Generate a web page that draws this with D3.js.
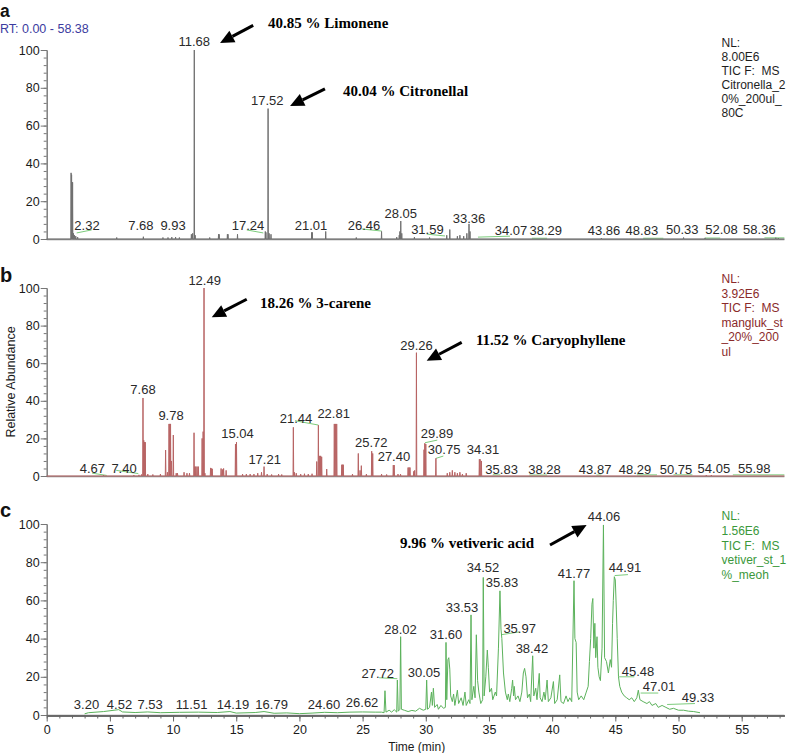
<!DOCTYPE html>
<html>
<head>
<meta charset="utf-8">
<script src="https://cdn.jsdelivr.net/npm/d3@7"></script>
<style>
  body { margin: 0; background: #fff; }
  svg { display: block; font-family: "Liberation Sans", Arial, sans-serif; }
  .note { font-family: "Liberation Serif", "Times New Roman", serif; font-weight: bold; font-size: 15px; }
</style>
</head>
<body>
<svg id="chart" width="787" height="753"></svg>
<script>
// Three GC-MS total ion chromatograms (a: citronella, b: mangluk, c: vetiver)
// peaks are [time (min), relative abundance %]
const timeRange = [0, 58.38];
const xTickValues = [0, 5, 10, 15, 20, 25, 30, 35, 40, 45, 50, 55];
const yTickValues = [0, 20, 40, 60, 80, 100];

const peaksA = [
  [1.93, 35], [1.97, 34], [2.01, 30], [2.05, 30], [2.12, 3], [2.2, 2], [2.3, 1.5], [2.45, 1],
  [5.54, 0.8], [7.65, 1.2], [9.2, 0.8], [9.6, 0.8], [9.9, 1], [10.2, 1], [10.5, 0.8],
  [11.45, 2.5], [11.55, 3], [11.68, 100], [11.75, 2], [12.9, 0.8], [13.6, 2.5], [13.65, 2.5],
  [14.3, 2.5], [14.35, 2.5], [15.1, 2.5], [17.3, 4], [17.35, 3.5], [17.52, 69], [17.6, 3],
  [17.75, 2.5], [20.97, 3.5], [21.02, 3.5], [22.08, 4], [24.5, 0.8], [26.5, 4], [27.7, 1],
  [27.9, 2], [27.95, 4], [28.02, 9.5], [28.1, 3], [29.1, 1], [30.3, 0.8], [31.66, 2],
  [31.9, 5], [32.5, 1.5], [32.7, 2], [33.0, 1.5], [33.25, 3], [33.42, 8], [33.5, 4],
  [43.9, 0.5], [50.4, 0.8], [52.1, 0.6], [57.7, 0.7], [57.9, 0.5]
];

const peaksB = [
  [4.5, 0.5], [6.9, 0.5], [7.3, 0.6], [7.5, 0.8], [7.62, 41.5], [7.68, 19], [7.74, 18], [7.8, 18],
  [8.0, 1], [8.4, 0.8], [9.0, 1], [9.41, 13.8], [9.55, 2], [9.68, 27.7], [9.74, 27.7], [9.8, 27.7],
  [9.87, 8], [10.02, 21.8], [10.25, 1.5], [10.35, 1.5], [10.87, 2], [11.1, 1.5], [11.3, 1.5],
  [11.66, 23], [11.72, 5], [11.8, 5], [11.9, 5], [12.0, 5], [12.3, 20], [12.38, 23.6],
  [12.45, 100], [12.52, 1.5], [12.97, 4.3], [13.05, 4], [13.1, 3.8], [13.8, 4], [13.9, 3.5],
  [14.0, 4], [14.2, 3], [14.94, 17], [15.02, 18], [15.5, 1], [15.8, 1], [16.1, 1], [16.4, 1],
  [16.7, 1.5], [17.0, 2], [17.2, 5], [17.45, 1], [17.8, 0.8], [18.35, 1], [18.6, 0.8],
  [19.52, 25.9], [19.6, 2], [19.75, 1.5], [20.1, 1], [20.4, 1.2], [20.7, 1], [21.0, 1.2],
  [21.37, 7.7], [21.5, 27], [21.6, 10.7], [21.68, 10.7], [21.76, 10.2], [22.16, 3.7],
  [22.76, 27.7], [22.85, 27.7], [22.95, 27.7], [23.35, 6], [23.42, 6], [23.47, 6], [24.2, 1],
  [24.66, 12], [24.8, 3], [24.9, 5.5], [25.3, 1], [25.72, 13.2], [25.8, 12], [26.5, 1],
  [26.9, 0.8], [27.43, 5.8], [27.5, 5.8], [27.8, 1], [28.0, 1], [28.6, 4.5], [28.68, 4.5],
  [28.75, 4.5], [29.05, 2.5], [29.12, 3], [29.26, 65.6], [29.86, 14], [29.92, 17.4], [30.0, 17],
  [30.8, 9.4], [31.7, 1.5], [31.9, 2], [32.1, 3], [32.3, 2], [32.5, 1.5], [32.7, 2], [32.9, 1],
  [33.2, 1.5], [34.24, 8.9], [34.3, 8.9], [34.4, 8], [52.2, 0.5], [52.6, 0.5]
];

const traceC = [
  [3.0, 0.6], [3.3, 1.2], [4.5, 1.8], [5.7, 2.8], [6.0, 1.6], [7.0, 1.3], [8.0, 1.6], [9.0, 1.2],
  [10.5, 1.4], [12.0, 1.5], [13.5, 1.3], [14.5, 1.8], [15.0, 1.0], [16.5, 1.3], [17.2, 1.8],
  [18.0, 0.9], [19.0, 1.1], [20.0, 0.7], [21.0, 1.0], [22.0, 1.4], [23.0, 1.2], [24.0, 1.5],
  [25.0, 1.6], [26.0, 1.5], [26.5, 1.5], [26.7, 1.2], [26.77, 12.7], [26.85, 1.5], [27.1, 2.5],
  [27.3, 1.5], [27.5, 2.8], [27.7, 1.5], [27.75, 18.3], [27.82, 2], [27.95, 3], [28.01, 41],
  [28.07, 3], [28.3, 2.5], [28.6, 1.8], [28.9, 2.4], [29.2, 2], [29.5, 3.5], [29.8, 2.5],
  [30.0, 3], [30.07, 18.3], [30.14, 3], [30.3, 4], [30.45, 12], [30.52, 5], [30.6, 14],
  [30.7, 4], [30.9, 5.5], [31.0, 3], [31.2, 5], [31.4, 3.5], [31.55, 4], [31.6, 38], [31.66, 8],
  [31.75, 29], [31.82, 30], [31.9, 24], [31.97, 10], [32.1, 7], [32.2, 11], [32.3, 5],
  [32.5, 13], [32.6, 6], [32.8, 9], [32.95, 5], [33.1, 12], [33.2, 5], [33.4, 8], [33.5, 6],
  [33.58, 52.4], [33.65, 8], [33.8, 15], [33.9, 9], [34.0, 42], [34.1, 18], [34.2, 12],
  [34.35, 6], [34.5, 8], [34.55, 72], [34.62, 10], [34.75, 20], [34.87, 34], [34.95, 25],
  [35.05, 12], [35.2, 14], [35.3, 8], [35.5, 12], [35.6, 10], [35.75, 35], [35.87, 65],
  [35.95, 45], [36.02, 40], [36.15, 22], [36.3, 12], [36.45, 8], [36.53, 11], [36.65, 7],
  [36.8, 14], [36.87, 18.3], [36.95, 10], [37.0, 15], [37.1, 8], [37.3, 10], [37.45, 7],
  [37.6, 12], [37.72, 22], [37.82, 24.4], [37.93, 20], [38.05, 9], [38.2, 11], [38.3, 7],
  [38.46, 31], [38.55, 10], [38.7, 14], [38.8, 8], [38.98, 21.8], [39.05, 9], [39.2, 7],
  [39.35, 12], [39.45, 8], [39.6, 18.3], [39.7, 7], [39.9, 9], [40.1, 17.5], [40.2, 6],
  [40.4, 8], [40.6, 21], [40.7, 7], [40.9, 6], [41.1, 10], [41.25, 7], [41.4, 9], [41.55, 7],
  [41.73, 70.3], [41.8, 40], [41.9, 38], [41.98, 12], [42.1, 8], [42.3, 10], [42.5, 8],
  [42.7, 12], [42.85, 15], [42.95, 28], [43.05, 40], [43.15, 58], [43.22, 61], [43.3, 35],
  [43.38, 48], [43.45, 30], [43.55, 41], [43.62, 25], [43.72, 20], [43.82, 18], [43.95, 35],
  [44.06, 99.5], [44.15, 30], [44.3, 28], [44.45, 22], [44.6, 29], [44.7, 25], [44.78, 48],
  [44.84, 60], [44.92, 72.4], [45.0, 70.7], [45.08, 55], [45.15, 40], [45.25, 20], [45.35, 15],
  [45.5, 12], [45.7, 10], [45.9, 9], [46.1, 8], [46.3, 9], [46.5, 7], [46.7, 9], [46.82, 13],
  [46.95, 8], [47.2, 7], [47.5, 6], [47.7, 7], [47.9, 5], [48.2, 6], [48.4, 4], [48.7, 5],
  [49.0, 4], [49.3, 3], [49.6, 3.5], [50.0, 2.5], [50.4, 2.5], [50.8, 2], [51.2, 1.8], [51.7, 1.2]
];

// peak labels: [text, time of label centre, abundance of label baseline]
const labelsA = [
  ["11.68", 11.68, 102], ["17.52", 17.46, 71], ["2.32", 3.19, 5], ["7.68", 7.45, 5],
  ["9.93", 10.0, 5], ["17.24", 15.93, 5], ["21.01", 20.92, 5], ["26.46", 25.11, 5],
  ["28.05", 28.02, 11], ["31.59", 30.13, 2.4], ["33.36", 33.42, 8.5], ["34.07", 36.74, 1.9],
  ["38.29", 39.5, 1.9], ["43.86", 44.1, 1.9], ["48.83", 47.1, 1.9], ["50.33", 50.3, 2.6],
  ["52.08", 53.4, 2.6], ["58.36", 56.4, 2.6]
];
const labelsB = [
  ["12.49", 12.5, 101.6], ["7.68", 7.62, 43.6], ["9.78", 9.84, 30], ["15.04", 15.1, 20.2],
  ["17.21", 17.25, 6.4], ["21.44", 19.73, 28], ["22.81", 22.71, 30.6], ["25.72", 25.69, 15.4],
  ["4.67", 3.62, 1.6], ["7.40", 6.12, 1.6], ["27.40", 27.48, 8], ["29.26", 29.27, 67],
  ["29.89", 30.89, 20.2], ["30.75", 31.45, 11.7], ["34.31", 34.53, 11.7], ["35.83", 36.0, 1],
  ["38.28", 39.4, 1], ["43.87", 43.4, 1], ["48.29", 46.56, 1], ["50.75", 49.8, 1],
  ["54.05", 52.8, 1.8], ["55.98", 56.0, 1.8]
];
const labelsC = [
  ["3.20", 3.15, 3.1], ["4.52", 5.76, 3.1], ["7.53", 8.18, 3.1], ["11.51", 11.47, 3.1],
  ["14.19", 14.74, 3.1], ["16.79", 17.8, 3.1], ["24.60", 21.95, 3.1], ["26.62", 24.96, 4],
  ["27.72", 26.2, 19.4], ["28.02", 28.0, 42.6], ["30.05", 29.86, 19.7], ["31.60", 31.6, 40],
  ["33.53", 32.87, 53.8], ["34.52", 34.53, 74.9], ["35.83", 36.03, 66.9], ["35.97", 37.43, 43],
  ["38.42", 38.4, 32.5], ["41.77", 41.73, 71.7], ["44.06", 44.1, 101.7], ["44.91", 45.77, 74.9],
  ["45.48", 46.8, 20.6], ["47.01", 48.46, 12.4], ["49.33", 51.54, 6.8]
];

// green integration baselines: [t1, h1, t2, h2]
const greenA = [
  [2.37, 3.2, 3.56, 4.8], [15.83, 4.8, 17.14, 3.2], [24.93, 5.3, 26.51, 4.2],
  [30.07, 2.6, 31.52, 1.6], [34.13, 1.0, 36.66, 1.5], [38.4, 0.4, 39.6, 0.4],
  [47.2, 0.4, 48.8, 0.4], [52.1, 0.5, 53.3, 0.5], [56.8, 0.6, 58.38, 0.6]
];
const greenB = [
  [3.6, 1.5, 4.75, 0.3], [5.5, 3.0, 7.25, 1.3], [19.65, 29.4, 21.5, 27.1],
  [29.94, 17.7, 30.91, 19.1], [30.81, 9.4, 31.39, 10.6], [35.3, 0.6, 35.9, 0.6],
  [38.2, 0.5, 39.6, 0.5], [43.5, 0.5, 43.9, 0.5], [46.7, 0.6, 48.3, 0.6],
  [49.6, 0.6, 51.1, 0.6], [54.3, 0.6, 58.38, 0.6]
];
const greenC = [
  [26.3, 19.5, 27.75, 19], [35.95, 42, 37.4, 43.5], [44.95, 73, 46.0, 73.5],
  [45.3, 20, 46.5, 20], [47.0, 11.5, 48.4, 11.5], [49.1, 5.5, 51.3, 6.0]
];

// annotations: [text, text time, text abundance, arrow tail t, h, arrow head t, h]
const notesA = [
  ["40.85 % Limonene", 17.51, 111.6, 16.34, 113, 13.72, 103.7],
  ["40.04 % Citronellal", 23.45, 75.7, 22.02, 79.4, 19.26, 70.4]
];
const notesB = [
  ["18.26 % 3-carene", 16.88, 89.4, 15.83, 94, 13.06, 84.4],
  ["11.52 % Caryophyllene", 33.97, 69.7, 32.84, 71.1, 30.07, 61.3]
];
const notesC = [
  ["9.96 % vetiveric acid", 27.96, 87.4, 39.83, 89, 42.73, 99.5]
];

const infoA = ["NL:", "8.00E6", "TIC F:  MS", "Citronella_2", "0%_200ul_", "80C"];
const infoB = ["NL:", "3.92E6", "TIC F:  MS", "mangluk_st", "_20%_200", "ul"];
const infoC = ["NL:", "1.56E6", "TIC F:  MS", "vetiver_st_1", "%_meoh"];

const svg = d3.select("#chart");
const x = d3.scaleLinear().domain(timeRange).range([46.7, 784.4]);

// narrow triangles on a flat baseline for the stick-like traces
const spikes = (peaks, w) => {
  const pts = [[timeRange[0], 0]];
  peaks.forEach(([t, h]) => pts.push([t - w, 0], [t, h], [t + w, 0]));
  pts.push([timeRange[1], 0]);
  return pts;
};

const panels = [
  { letter: "a", top: 50, bottom: 239, color: "#707070", infoColor: "#1e1e1e", points: spikes(peaksA, 0.02),
    labels: labelsA, green: greenA, notes: notesA, info: infoA, infoY: 47, infoStep: 14, letterY: 16.5, letterSize: 17.5 },
  { letter: "b", top: 288, bottom: 476, color: "#b86464", infoColor: "#8a2a2a", points: spikes(peaksB, 0.025),
    labels: labelsB, green: greenB, notes: notesB, info: infoB, infoY: 283, infoStep: 14.6, letterY: 282, letterSize: 20 },
  { letter: "c", top: 524, bottom: 715, color: "#5cb25c", infoColor: "#3b983b", points: traceC,
    labels: labelsC, green: greenC, notes: notesC, info: infoC, infoY: 520, infoStep: 14.8, letterY: 517, letterSize: 20, timeAxis: true }
];

panels.forEach((p) => {
  const y = d3.scaleLinear().domain([0, 100]).range([p.bottom, p.top]);
  const g = svg.append("g");

  // baseline
  g.append("line")
    .attr("x1", x(0)).attr("x2", x(timeRange[1]))
    .attr("y1", p.bottom + 0.5).attr("y2", p.bottom + 0.5)
    .attr("stroke", "#8c8c8c").attr("stroke-width", 1.5);

  // y axis, major and minor ticks
  const yMinor = g.append("g").attr("transform", `translate(${x(0)},0)`)
    .call(d3.axisLeft(y).tickValues(d3.range(0, 101, 4)).tickSize(3).tickFormat(""));
  const yMajor = g.append("g").attr("transform", `translate(${x(0)},0)`)
    .call(d3.axisLeft(y).tickValues(yTickValues).tickSize(6).tickPadding(1).tickSizeOuter(0));
  [yMinor, yMajor].forEach((a) => {
    a.select(".domain").attr("stroke", "#777");
    a.selectAll(".tick line").attr("stroke", "#777");
  });
  yMajor.selectAll(".tick text").attr("font-size", 12.5).attr("fill", "#1a1a1a")
    .attr("font-family", "Liberation Sans, Arial, sans-serif");

  if (p.timeAxis) {
    const xMinor = g.append("g").attr("transform", `translate(0,${p.bottom + 0.5})`)
      .call(d3.axisBottom(x).tickValues(d3.range(0, 59, 1)).tickSize(3).tickFormat("").tickSizeOuter(0));
    const xMajor = g.append("g").attr("transform", `translate(0,${p.bottom + 0.5})`)
      .call(d3.axisBottom(x).tickValues(xTickValues).tickSize(6).tickPadding(4).tickSizeOuter(0));
    [xMinor, xMajor].forEach((a) => {
      a.select(".domain").attr("stroke", "#666").attr("stroke-width", 1.5);
      a.selectAll(".tick line").attr("stroke", "#666");
    });
    xMajor.selectAll(".tick text").attr("font-size", 12.5).attr("fill", "#1a1a1a")
      .attr("font-family", "Liberation Sans, Arial, sans-serif");
    g.append("text")
      .attr("x", 416.7).attr("y", 751)
      .attr("text-anchor", "middle").attr("font-size", 12).attr("fill", "#1a1a1a")
      .text("Time (min)");
  }

  // green integration baselines
  g.selectAll(".green")
    .data(p.green)
    .enter()
    .append("line")
    .attr("x1", (d) => x(d[0])).attr("y1", (d) => y(d[1]))
    .attr("x2", (d) => x(d[2])).attr("y2", (d) => y(d[3]))
    .attr("stroke", "#7ccc7c").attr("stroke-width", 1);

  // trace
  g.append("path")
    .datum(p.points)
    .attr("fill", "none")
    .attr("stroke", p.color)
    .attr("stroke-width", 1)
    .attr("d", d3.line().x((d) => x(d[0])).y((d) => y(d[1])));

  // peak labels
  g.selectAll(".peak-label")
    .data(p.labels)
    .enter()
    .append("text")
    .attr("x", (d) => x(d[1])).attr("y", (d) => y(d[2]))
    .attr("text-anchor", "middle").attr("font-size", 13).attr("fill", "#2a2a2a")
    .text((d) => d[0]);

  // info block on the right
  g.selectAll(".info")
    .data(p.info)
    .enter()
    .append("text")
    .attr("x", 721.5).attr("y", (d, i) => p.infoY + i * p.infoStep)
    .attr("font-size", 12).attr("fill", p.infoColor)
    .attr("xml:space", "preserve")
    .text((d) => d);

  // panel letter
  g.append("text")
    .attr("x", 0).attr("y", p.letterY)
    .attr("font-size", p.letterSize).attr("font-weight", "bold").attr("fill", "#111")
    .text(p.letter);

  // bold annotations with arrows
  p.notes.forEach(([text, tt, th, t1, h1, t2, h2]) => {
    g.append("text").attr("class", "note")
      .attr("x", x(tt)).attr("y", y(th)).attr("fill", "#000")
      .text(text);
    const x1 = x(t1), y1 = y(h1), x2 = x(t2), y2 = y(h2);
    const ang = Math.atan2(y2 - y1, x2 - x1);
    const len = 14, half = 6.5;
    const bx = x2 - len * Math.cos(ang), by = y2 - len * Math.sin(ang);
    g.append("line")
      .attr("x1", x1).attr("y1", y1).attr("x2", bx).attr("y2", by)
      .attr("stroke", "#000").attr("stroke-width", 3);
    g.append("path")
      .attr("d", `M${x2},${y2}L${bx + half * Math.sin(ang)},${by - half * Math.cos(ang)}L${bx - half * Math.sin(ang)},${by + half * Math.cos(ang)}Z`)
      .attr("fill", "#000");
  });
});

// retention time range and y axis title
svg.append("text")
  .attr("x", 0).attr("y", 33)
  .attr("font-size", 12.5).attr("fill", "#3c3ca0")
  .text("RT: 0.00 - 58.38");

svg.append("text")
  .attr("transform", "translate(15,382) rotate(-90)")
  .attr("text-anchor", "middle").attr("font-size", 12.5).attr("fill", "#1a1a1a")
  .text("Relative Abundance");
</script>
</body>
</html>
